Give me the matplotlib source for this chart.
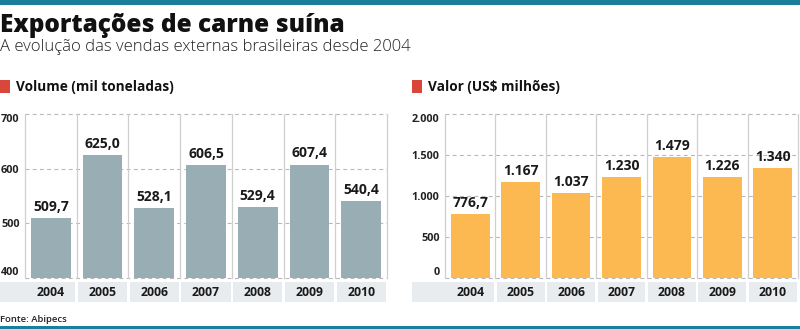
import matplotlib
matplotlib.use("Agg")
import matplotlib.pyplot as plt
from matplotlib.patches import Rectangle

YEARS = ["2004", "2005", "2006", "2007", "2008", "2009", "2010"]
VOLUME = [509.7, 625.0, 528.1, 606.5, 529.4, 607.4, 540.4]
VALOR = [776.7, 1167, 1037, 1230, 1479, 1226, 1340]

VOL_TICKS = [400, 500, 600, 700]
VAL_TICKS = [0, 500, 1000, 1500, 2000]

TITLE = "Exportações de carne suína"
SUBTITLE = "A evolução das vendas externas brasileiras desde 2004"
VOL_HEAD = "Volume (mil toneladas)"
VAL_HEAD = "Valor (US$ milhões)"
SOURCE = "Fonte: Abipecs"

W, H = 800, 329
TEAL = "#1b7f9c"
RED = "#d9473a"
GREY_BAR = "#99aeb4"
ORANGE = "#fcb951"
BAND = "#e8ecee"
FONT = "Open Sans"

plt.rcParams["font.family"] = [FONT, "DejaVu Sans"]


def box(x0, y0, x1, y1):
    return [x0 / W, 1 - y1 / H, (x1 - x0) / W, (y1 - y0) / H]


def br_num(v):
    if v >= 1000:
        return f"{v:,.0f}".replace(",", ".")
    return f"{v:.1f}".replace(".", ",")


def panel(fig, x0, x1, band_x0, values, ticks, color, fmt_ticks):
    ax = fig.add_axes(box(x0, 114, x1, 278))
    n = len(values)
    xs = list(range(n))
    ax.set_xlim(-0.5, n - 0.5)
    ax.set_ylim(ticks[0], ticks[-1])
    for s in ax.spines.values():
        s.set_visible(False)
    for t in ticks:
        ax.axhline(t, color="#b8b8b8", lw=0.8, ls=(0, (3.5, 3)), zorder=1,
                   clip_on=False)
    for i in range(n + 1):
        ax.axvline(i - 0.5, color="#cfcfcf", lw=0.9, zorder=1, clip_on=False)
    ax.bar(xs, values, width=0.77, color=color, zorder=2)
    for x, v in zip(xs, values):
        ax.annotate(br_num(v), (x, v), xytext=(0, 3), textcoords="offset points",
                    ha="center", va="bottom", fontsize=10, fontweight="bold",
                    color="#1a1a1a")
    ax.set_xticks([])
    ax.set_yticks(ticks)
    ax.set_yticklabels([fmt_ticks(t) for t in ticks], fontsize=7.8,
                       fontweight="bold", color="#222222")
    ax.tick_params(axis="y", length=0, pad=4)
    labels = ax.get_yticklabels()
    labels[0].set_va("bottom")
    labels[-1].set_va("top")

    # year band
    col_px = (x1 - x0) / n
    ext = (x0 - band_x0) / col_px
    bax = fig.add_axes(box(x0, 282, x1, 302))
    bax.set_xlim(-0.5, n - 0.5)
    bax.set_ylim(0, 1)
    bax.axis("off")
    gap = 2.5 / col_px
    lefts = [x - 0.5 + gap / 2 for x in xs]
    widths = [1 - gap] * n
    lefts[0] = -0.5 - ext
    widths[0] = 1 - gap / 2 + ext
    bax.bar(lefts, [1] * n, width=widths, align="edge", color=BAND,
            clip_on=False)
    for x, y in zip(xs, YEARS):
        bax.text(x, 0.5, y, ha="center", va="center", fontsize=8.8,
                 fontweight="bold", color="#1a1a1a")
    return ax


fig = plt.figure(figsize=(W / 100, H / 100), dpi=100)
fig.add_artist(Rectangle((0, 1 - 5 / H), 1, 5 / H, transform=fig.transFigure,
                         color=TEAL, lw=0))
fig.add_artist(Rectangle((0, 0), 1, 3.5 / H, transform=fig.transFigure,
                         color=TEAL, lw=0))

fig.text(0, 1 - 25 / H, TITLE, fontsize=17.6, fontweight=800, va="center",
         ha="left", color="#111111")
fig.text(0, 1 - 47 / H, SUBTITLE, fontsize=12, fontweight=300, va="center",
         ha="left", color="#222222")

for sq_x, tx, head in [(0, 16, VOL_HEAD), (412, 428, VAL_HEAD)]:
    fig.add_artist(Rectangle((sq_x / W, 1 - 93 / H), 10 / W, 13 / H,
                             transform=fig.transFigure, color=RED, lw=0))
    fig.text(tx / W, 1 - 87 / H, head, fontsize=9.8, fontweight="bold",
             va="center", ha="left", color="#111111")

panel(fig, 25, 387, 0, VOLUME, VOL_TICKS, GREY_BAR, lambda t: f"{t}")
panel(fig, 445, 798, 412, VALOR, VAL_TICKS, ORANGE,
      lambda t: f"{t:,}".replace(",", "."))

fig.text(0, 1 - 319 / H, SOURCE, fontsize=6.8, fontweight=600, va="center",
         ha="left", color="#222222")

fig.savefig("out.png", dpi=100)
